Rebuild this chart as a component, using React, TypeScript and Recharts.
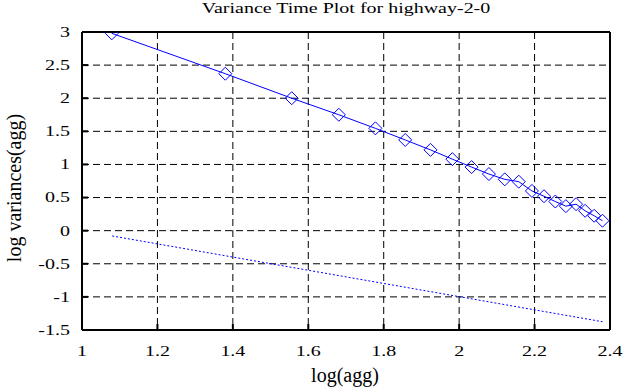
import { ComposedChart, Line, XAxis, YAxis, CartesianGrid } from 'recharts'

// log10 of aggregation level and log of the variance at that level
const aggLog = [1.079, 1.38, 1.556, 1.681, 1.778, 1.857, 1.924, 1.982, 2.033, 2.079, 2.121, 2.158, 2.193, 2.225, 2.255, 2.283, 2.31, 2.334, 2.358, 2.38]
const logVariance = [2.98, 2.37, 2.0, 1.75, 1.545, 1.37, 1.22, 1.08, 0.96, 0.855, 0.775, 0.74, 0.6, 0.52, 0.44, 0.37, 0.4, 0.3, 0.225, 0.15]

// dotted reference line (slope -1)
const refAggLog = [1.08, 2.38]
const refVariance = [-0.08, -1.375]

const xTicks = [1, 1.2, 1.4, 1.6, 1.8, 2, 2.2, 2.4]
const yTicks = [-1.5, -1, -0.5, 0, 0.5, 1, 1.5, 2, 2.5, 3]

const FONT = '"Liberation Serif", "Times New Roman", serif'
const BLUE = '#0000ff'

const varData = aggLog.map((x, i) => ({ x, y: logVariance[i] }))
const refData = refAggLog.map((x, i) => ({ x, y: refVariance[i] }))

function Diamond(props: any) {
  const { cx, cy } = props
  if (cx == null || cy == null) return null
  const r = 6.5
  return (
    <polygon
      points={`${cx},${cy - r} ${cx + r},${cy} ${cx},${cy + r} ${cx - r},${cy}`}
      fill="none"
      stroke={BLUE}
      strokeWidth={1}
    />
  )
}

function XTick({ x, y, payload }: any) {
  return (
    <g transform={`translate(${x},${y}) scale(1,0.72)`}>
      <text x={0} y={6.8} textAnchor="middle" fontFamily={FONT} fontSize={20} fill="#000">
        {payload.value}
      </text>
    </g>
  )
}

function YTick({ x, y, payload }: any) {
  return (
    <g transform={`translate(${x},${y}) scale(1,0.72)`}>
      <text x={0} y={6.8} textAnchor="end" fontFamily={FONT} fontSize={20} fill="#000">
        {payload.value}
      </text>
    </g>
  )
}

const axisLine = { stroke: '#000', strokeWidth: 2 }
const tickLine = { stroke: '#000', strokeWidth: 2 }

export default function App() {
  return (
    <div style={{ position: 'absolute', left: 0, top: 0, width: 626, height: 387, background: '#fff' }}>
      <ComposedChart width={626} height={387} margin={{ top: 31, right: 15, bottom: 0, left: 0 }}>
        <CartesianGrid stroke="#000" strokeDasharray="7 4" strokeWidth={1} />
        <XAxis
          dataKey="x"
          type="number"
          domain={[1, 2.4]}
          ticks={xTicks}
          allowDataOverflow
          height={57}
          tickSize={-6}
          tickMargin={27}
          axisLine={axisLine}
          tickLine={tickLine}
          tick={<XTick />}
          label={() => (
            <text x={345} y={382} textAnchor="middle" fontFamily={FONT} fontSize={20} fill="#000">
              log(agg)
            </text>
          )}
        />
        <XAxis
          xAxisId="top"
          orientation="top"
          dataKey="x"
          type="number"
          domain={[1, 2.4]}
          ticks={xTicks}
          allowDataOverflow
          height={1}
          tickSize={-6}
          axisLine={axisLine}
          tickLine={tickLine}
          tick={false}
          label={() => (
            <g transform="translate(346,12.8) scale(1,0.72)">
              <text x={0} y={0} textAnchor="middle" fontFamily={FONT} fontSize={20} fill="#000">
                Variance Time Plot for highway-2-0
              </text>
            </g>
          )}
        />
        <YAxis
          type="number"
          domain={[-1.5, 3]}
          ticks={yTicks}
          allowDataOverflow
          width={82}
          tickSize={-6}
          tickMargin={18}
          axisLine={axisLine}
          tickLine={tickLine}
          tick={<YTick />}
          label={() => (
            <text
              transform="translate(21,188) rotate(-90)"
              textAnchor="middle"
              fontFamily={FONT}
              fontSize={20}
              fill="#000"
            >
              log variances(agg)
            </text>
          )}
        />
        <YAxis
          yAxisId="right"
          orientation="right"
          type="number"
          domain={[-1.5, 3]}
          ticks={yTicks}
          allowDataOverflow
          width={1}
          tickSize={-6}
          axisLine={axisLine}
          tickLine={tickLine}
          tick={false}
        />
        <Line
          data={refData}
          dataKey="y"
          type="linear"
          stroke={BLUE}
          strokeWidth={1}
          strokeDasharray="2 2"
          dot={false}
          isAnimationActive={false}
        />
        <Line
          data={varData}
          dataKey="y"
          type="linear"
          stroke={BLUE}
          strokeWidth={1}
          dot={(p: any) => <Diamond key={p.index} {...p} />}
          isAnimationActive={false}
        />
      </ComposedChart>
    </div>
  )
}
